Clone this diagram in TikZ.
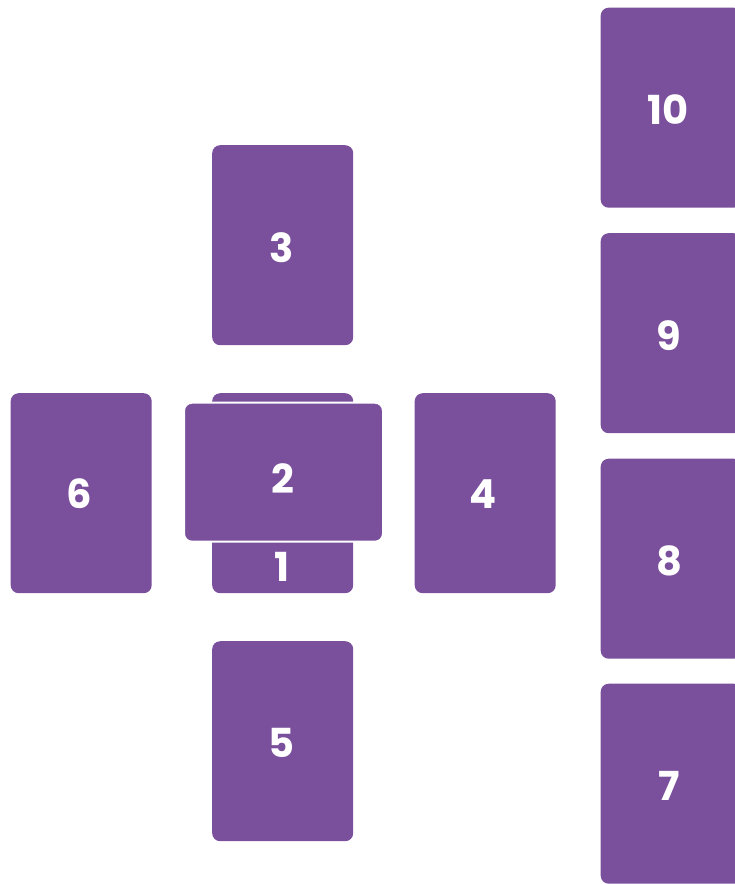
\documentclass[tikz,border=0pt]{standalone}
\usepackage{fontspec}
\setmainfont{Poppins}
\definecolor{cardpurple}{HTML}{7A4F9C}
\begin{document}
\begin{tikzpicture}[x=1pt,y=-1pt,
  card/.style={fill=cardpurple,draw=none,rounded corners=8pt,minimum width=141pt,minimum height=200pt,inner sep=0pt,anchor=north west},
  cardh/.style={fill=cardpurple,draw=white,line width=2pt,rounded corners=8pt,minimum width=199pt,minimum height=139pt,inner sep=0pt,anchor=north west},
  lbl/.style={text=white,font=\fontsize{40}{40}\selectfont\bfseries,inner sep=0pt,anchor=center}]
\useasboundingbox (0,0) rectangle (735,884);
\clip (0,0) rectangle (735,884);
% cross
\node[card] (c3) at (212,145) {};
\node[card] (c1) at (212,393) {};
\node[cardh] (c2) at (183,401.7) {};
\node[card] (c6) at (10.5,393) {};
\node[card] (c4) at (414.5,393) {};
\node[card] (c5) at (212,641) {};
% staff
\node[card] (c10) at (600.5,7.5) {};
\node[card] (c9) at (600.5,233) {};
\node[card] (c8) at (600.5,458.5) {};
\node[card] (c7) at (600.5,683.5) {};
% labels
\node[lbl] (l3) at (281.5,248) {3};
\node[lbl] (l1) at (282,567) {1};
\node[lbl] (l2) at (282.5,479) {2};
\node[lbl] (l6) at (79,494) {6};
\node[lbl] (l4) at (483,494) {4};
\node[lbl] (l5) at (281.5,743) {5};
\node[lbl] (l10) at (668.5,110) {10};
\node[lbl] (l9) at (669,336) {9};
\node[lbl] (l8) at (669,561) {8};
\node[lbl] (l7) at (669,786) {7};
\end{tikzpicture}
\end{document}
